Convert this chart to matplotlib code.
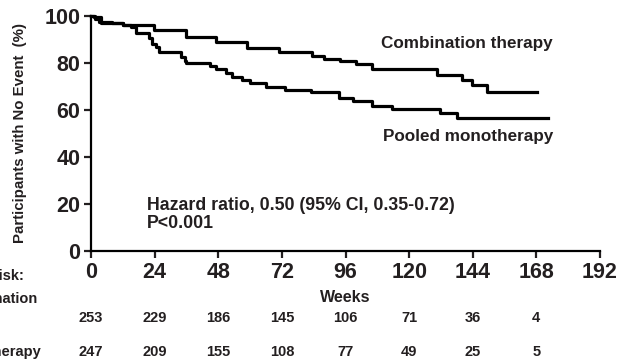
import numpy as np
import matplotlib
matplotlib.use('Agg')
from matplotlib import pyplot as plt

plt.rcParams['font.family'] = ['Liberation Sans', 'DejaVu Sans']
plt.rcParams['font.weight'] = 'bold'
plt.rcParams['axes.labelweight'] = 'bold'

#KM curves, (weeks, % with no event)
combo_wk = [0, 1, 3.8, 11.9, 23.8, 35.8, 47.1, 59.0, 70.9, 83.5, 87.9, 94, 99.8, 106, 130.5, 140, 143.7, 149.3, 168.2]
combo_pct = [100, 99.5, 96.8, 96.0, 93.9, 91.1, 88.7, 86.1, 84.4, 83.0, 81.6, 80.6, 79.4, 77.2, 74.8, 72.6, 70.5, 67.4, 67.4]

pooled_wk = [0, 1.5, 3, 8, 12, 15, 17, 22, 23, 24.5, 25.5, 34, 35.5, 36, 45, 47, 51, 53, 57, 60, 66, 73, 83,
             93.5, 99, 106, 113.5, 131.7, 138, 172.5]
pooled_pct = [100, 98.5, 97.2, 96.8, 96.0, 95.1, 92.5, 90.5, 88.0, 86.8, 84.7, 82.5, 80.9, 79.7, 78.5, 77.2, 75.5,
              73.8, 72.5, 71.2, 69.8, 68.4, 67.7, 64.8, 63.6, 61.6, 60.2, 58.5, 56.3, 56.3]

#numbers at risk
risk_wk = [0, 24, 48, 72, 96, 120, 144, 168]
risk_combo = [253, 229, 186, 145, 106, 71, 36, 4]
risk_pooled = [247, 209, 155, 108, 77, 49, 25, 5]

xticks = [0, 24, 48, 72, 96, 120, 144, 168, 192]
yticks = [0, 20, 40, 60, 80, 100]

ink = '#231f20'

fig = plt.figure(figsize=(6.17, 3.62), dpi=100)
ax = fig.add_axes([0.1475, 0.3075, 0.825, 0.649])

ax.step(combo_wk, combo_pct, where='post', color='black', lw=2.3, clip_on=False)
ax.step(pooled_wk, pooled_pct, where='post', color='black', lw=2.3, clip_on=False)

ax.set_xlim(0, 192)
ax.set_ylim(0, 100)
ax.set_xticks(xticks)
ax.set_yticks(yticks)
ax.tick_params(labelsize=15.5, width=1.6, length=5, pad=2.5, colors=ink)
ax.tick_params(axis='x', pad=3.5)
for s in ['top', 'right']:
    ax.spines[s].set_visible(False)
for s in ['left', 'bottom']:
    ax.spines[s].set_linewidth(1.6)

ax.set_ylabel('Participants with No Event  (%)', fontsize=10.8, labelpad=13, color=ink)

ax.text(141.8, 88, 'Combination therapy', fontsize=12.3, ha='center', va='center', color=ink)
ax.text(142.2, 48.4, 'Pooled monotherapy', fontsize=12.3, ha='center', va='center', color=ink)
ax.text(21.1, 15.4, 'Hazard ratio, 0.50 (95% CI, 0.35-0.72)\nP<0.001', fontsize=12.8, ha='left', va='center',
        color=ink, linespacing=1.15)

#x label and at-risk table in figure pixel coords
def fx(w):
    return (91 + w * 509 / 192) / 617

fig.text(fx(96), 1 - 297 / 362, 'Weeks', fontsize=11.5, ha='center', va='center', color=ink)
for w, a, b in zip(risk_wk, risk_combo, risk_pooled):
    fig.text(fx(w), 1 - 318 / 362, str(a), fontsize=10.5, ha='center', va='center', color=ink)
    fig.text(fx(w), 1 - 352 / 362, str(b), fontsize=10.5, ha='center', va='center', color=ink)

fig.text(-52 / 617, 1 - 276 / 362, 'No. at risk:', fontsize=10.5, ha='left', va='center', color=ink)
fig.text(-52 / 617, 1 - 299 / 362, 'Combination', fontsize=10.5, ha='left', va='center', color=ink)
fig.text(-52 / 617, 1 - 318 / 362, 'therapy', fontsize=10.5, ha='left', va='center', color=ink)
fig.text(-52 / 617, 1 - 335 / 362, 'Pooled', fontsize=10.5, ha='left', va='center', color=ink)
fig.text(-52 / 617, 1 - 352 / 362, 'monotherapy', fontsize=10.5, ha='left', va='center', color=ink)

fig.savefig('out.png', dpi=100)
